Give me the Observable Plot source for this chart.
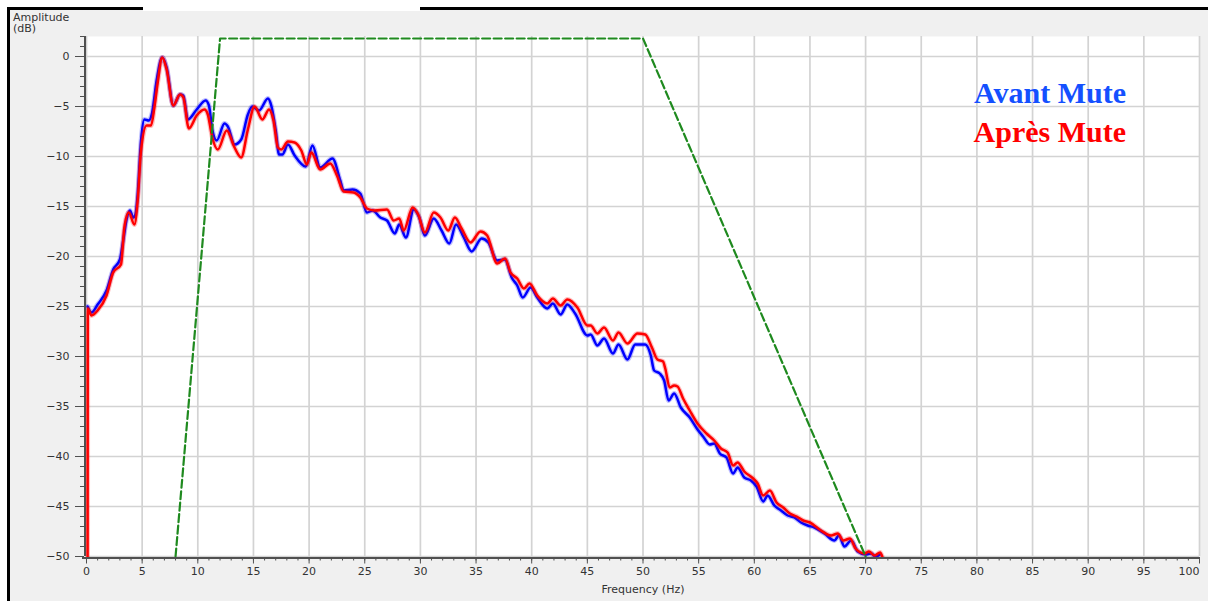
<!DOCTYPE html>
<html>
<head>
<meta charset="utf-8">
<script src="https://cdn.jsdelivr.net/npm/d3@7"></script>
<script src="https://cdn.jsdelivr.net/npm/@observablehq/plot@0.6"></script>
<style>
  html, body { margin: 0; padding: 0; background: #fff; }
  #wrap { position: relative; width: 1208px; height: 601px; overflow: hidden; }
  #bg { position: absolute; left: 7px; top: 7px; right: 0; bottom: 0; background: #f0f0f0;
        border-left: 3px solid #000; border-top: 3px solid #000; }
  #gap { position: absolute; left: 143px; top: 6px; width: 277px; height: 5px; background: #fff; }
  #chart { position: absolute; left: 0; top: 0; }
  #ylab { position: absolute; left: 13px; top: 12px; font-family: "DejaVu Sans", sans-serif;
          font-size: 11px; line-height: 11px; color: #333; }
  #legend { position: absolute; right: 82px; top: 73px; text-align: right;
            font-family: "Liberation Serif", "Times New Roman", serif; font-weight: bold;
            font-size: 30px; line-height: 39px; }
</style>
</head>
<body>
<div id="wrap">
  <div id="bg"></div>
  <div id="gap"></div>
  <div id="chart"></div>
  <div id="ylab">Amplitude<br>(dB)</div>
  <div id="legend"></div>
</div>
<script>
// ---- data ----
const xTicks = [0, 5, 10, 15, 20, 25, 30, 35, 40, 45, 50, 55, 60, 65, 70, 75, 80, 85, 90, 95, 100];
const yTicks = [-50, -45, -40, -35, -30, -25, -20, -15, -10, -5, 0];
const xMinorTicks = d3.range(0, 101, 1);
const yMinorTicks = d3.range(-50, 3, 1);

const seriesNames = ["Avant Mute", "Après Mute"];
const seriesColors = ["#1450ff", "#ff0000"];

// [frequency Hz, amplitude dB]
const avantMute = [
  [0.1,-25.0],[0.45,-25.6],[1.0,-24.8],[1.8,-23.4],[2.4,-21.3],[3.0,-20.3],[3.3,-18.4],[3.6,-16.3],
  [3.9,-15.4],[4.2,-16.1],[4.4,-15.8],[4.6,-13.8],[4.9,-8.4],[5.2,-6.3],[5.6,-6.4],[5.9,-5.6],
  [6.3,-2.4],[6.8,-0.1],[7.2,-1.1],[7.8,-4.9],[8.4,-3.8],[8.7,-3.9],[9.1,-6.3],[9.9,-5.3],
  [10.7,-4.4],[11.0,-4.9],[11.3,-7.3],[11.7,-8.4],[12.4,-6.7],[12.7,-7.0],[13.3,-8.8],[13.9,-8.3],
  [14.5,-5.8],[14.9,-5.0],[15.5,-5.4],[16.3,-4.2],[16.6,-4.9],[17.0,-7.4],[17.3,-9.8],[17.6,-9.8],
  [18.1,-8.8],[18.7,-9.9],[19.7,-11.0],[20.3,-8.9],[21.0,-11.1],[22.1,-10.2],[22.8,-12.4],[23.1,-13.4],
  [23.9,-13.3],[24.6,-13.7],[25.2,-15.6],[25.7,-15.4],[26.4,-16.1],[27.0,-16.4],[27.7,-17.7],[28.1,-16.8],
  [28.7,-18.1],[29.4,-15.3],[29.9,-16.1],[30.4,-17.9],[31.2,-16.2],[31.9,-17.4],[32.6,-18.7],[33.2,-16.8],
  [33.9,-18.1],[34.6,-19.5],[35.5,-18.2],[36.1,-18.6],[36.9,-20.4],[37.6,-20.3],[38.2,-22.1],[38.7,-22.9],
  [39.2,-24.1],[39.9,-23.1],[40.5,-24.1],[41.4,-25.2],[41.9,-24.7],[42.6,-25.8],[43.2,-24.8],[43.9,-25.7],
  [45.0,-27.9],[45.3,-27.8],[45.9,-28.9],[46.5,-28.2],[47.3,-29.7],[47.8,-28.8],[48.6,-30.3],[49.3,-28.8],
  [50.2,-28.8],[50.7,-29.9],[51.0,-31.4],[51.5,-31.7],[51.9,-32.4],[52.3,-34.4],[52.8,-33.7],[53.4,-35.1],
  [54.2,-36.1],[54.9,-37.3],[55.4,-38.0],[56.0,-38.8],[56.4,-38.7],[56.9,-39.7],[57.5,-40.1],[58.1,-41.7],
  [58.5,-41.1],[59.1,-42.1],[59.7,-42.4],[60.2,-43.0],[60.8,-44.5],[61.2,-43.9],[61.8,-44.9],[62.4,-45.4],
  [63.0,-45.9],[63.6,-46.1],[64.2,-46.6],[64.8,-46.9],[65.4,-47.1],[66.3,-47.7],[67.2,-48.4],[67.6,-47.9],
  [68.1,-49.0],[68.7,-48.4],[69.3,-49.5],[70.0,-49.8],[70.5,-49.7],[70.9,-50.0],[71.3,-49.8]
];

const apresMute = [
  [0.1,-50.0],[0.12,-25.2],[0.45,-25.9],[1.0,-25.4],[1.8,-23.9],[2.4,-21.6],[3.1,-20.8],[3.4,-17.1],
  [3.8,-15.6],[4.3,-16.8],[4.6,-14.4],[4.9,-9.4],[5.4,-6.9],[5.8,-6.9],[6.1,-5.1],[6.4,-2.6],
  [6.8,-0.1],[7.2,-1.3],[7.8,-4.9],[8.4,-3.8],[8.7,-4.1],[9.2,-7.2],[9.9,-5.9],[10.6,-5.3],
  [10.9,-5.8],[11.3,-8.1],[11.8,-9.3],[12.6,-7.4],[13.3,-9.1],[13.9,-10.1],[14.5,-7.3],[15.1,-5.0],
  [15.8,-6.3],[16.4,-5.3],[16.8,-6.4],[17.2,-9.1],[17.5,-9.3],[18.1,-8.5],[18.7,-8.6],[19.3,-9.4],
  [19.8,-10.8],[20.2,-9.6],[21.0,-11.3],[21.9,-10.7],[22.5,-11.9],[23.1,-13.5],[24.0,-13.6],[24.6,-14.1],
  [25.2,-15.2],[25.9,-15.4],[27.0,-15.3],[27.6,-16.4],[28.1,-16.2],[28.5,-17.4],[29.3,-15.1],[29.8,-15.8],
  [30.4,-17.6],[31.2,-15.6],[31.8,-16.1],[32.5,-17.4],[33.1,-16.1],[33.7,-17.2],[34.5,-18.6],[35.4,-17.5],
  [36.0,-17.9],[36.9,-20.7],[37.6,-20.2],[38.1,-21.6],[38.7,-22.2],[39.3,-23.2],[39.8,-22.7],[40.5,-23.9],
  [41.4,-24.7],[41.9,-24.2],[42.6,-24.9],[43.2,-24.3],[44.1,-25.1],[45.0,-26.9],[45.3,-26.9],[45.9,-27.7],
  [46.5,-27.1],[47.3,-28.4],[47.8,-27.6],[48.6,-28.7],[49.5,-27.7],[50.2,-27.8],[50.8,-29.1],[51.3,-30.3],
  [51.8,-30.5],[52.0,-31.2],[52.4,-33.1],[52.8,-32.9],[53.1,-33.0],[53.6,-34.2],[54.2,-35.4],[54.9,-36.7],
  [55.7,-37.7],[56.4,-38.4],[57.0,-39.2],[57.6,-39.6],[58.1,-40.9],[58.5,-40.6],[59.1,-41.5],[59.9,-42.2],
  [60.3,-42.7],[60.8,-43.9],[61.4,-43.4],[62.0,-44.6],[62.6,-45.1],[63.2,-45.7],[63.8,-46.0],[64.4,-46.4],
  [65.0,-46.6],[66.0,-47.4],[66.9,-47.9],[67.5,-47.7],[68.0,-48.4],[68.6,-48.2],[69.1,-49.2],[69.9,-49.7],
  [70.3,-49.5],[70.8,-49.9],[71.3,-49.6],[71.5,-50.0]
];

// mute filter (green dashed trapezoid)
const filterHz = [8, 12, 50, 70];
const filterDb = [-50, 1.8, 1.8, -50];
const filter = filterHz.map((f, i) => [f, filterDb[i]]);

// ---- chart ----
const axisColor = "#505050";
const lineOpts = (color, w, op) => ({x: d => d[0], y: d => d[1], stroke: color, strokeWidth: w,
  strokeOpacity: op, curve: "monotone-x", strokeLinejoin: "round"});

const lastTick = xTicks[xTicks.length - 1];
const chart = Plot.plot({
  width: 1208,
  height: 601,
  marginLeft: 86,
  marginRight: 9,
  marginTop: 36,
  marginBottom: 45,
  style: {background: "transparent", fontFamily: "DejaVu Sans, sans-serif", fontSize: "11px", color: "#333"},
  x: {domain: [0, 100]},
  y: {domain: [-50, 2]},
  marks: [
    Plot.frame({fill: "white", stroke: null}),
    Plot.gridX(xTicks, {stroke: "#d3d3d3", strokeOpacity: 1, strokeWidth: 1.7}),
    Plot.gridY(yTicks, {stroke: "#d3d3d3", strokeOpacity: 1, strokeWidth: 1.7}),
    Plot.line(avantMute, lineOpts("#0000ff", 4.8, 0.25)),
    Plot.line(avantMute, lineOpts("#0000ff", 2.5, 1)),
    Plot.line(apresMute, lineOpts("#ff0000", 4.8, 0.25)),
    Plot.line(apresMute, lineOpts("#ff0000", 2.5, 1)),
    Plot.line(filter, {x: d => d[0], y: d => d[1], stroke: "#1f8a1f", strokeWidth: 2.2, strokeDasharray: "8,3.5"}),
    Plot.axisY(yMinorTicks, {tickSize: 4, dx: -2, tickFormat: () => "", label: null, stroke: axisColor}),
    Plot.axisY(yTicks, {tickSize: 9, tickPadding: 6, dx: -2, label: null, stroke: axisColor}),
    Plot.axisX(xMinorTicks, {tickSize: 3, dy: 1.5, tickFormat: () => "", label: null, stroke: axisColor}),
    Plot.axisX(xTicks.filter(t => t !== lastTick), {tickSize: 6, tickPadding: 3, dy: 1.5, label: "Frequency (Hz)",
      labelAnchor: "center", labelArrow: "none", labelOffset: 36, stroke: axisColor}),
    Plot.axisX([lastTick], {tickSize: 6, tickPadding: 3, dy: 1.5, textAnchor: "end", label: null, stroke: axisColor}),
    Plot.ruleX([0], {dx: -1.5, stroke: axisColor, strokeWidth: 2}),
    Plot.ruleY([-50], {dy: 1.5, stroke: axisColor, strokeWidth: 2, insetLeft: -4, insetRight: -1})
  ]
});
document.getElementById("chart").appendChild(chart);

const legend = document.getElementById("legend");
seriesNames.forEach((name, i) => {
  const div = document.createElement("div");
  div.textContent = name;
  div.style.color = seriesColors[i];
  legend.appendChild(div);
});
</script>
</body>
</html>
